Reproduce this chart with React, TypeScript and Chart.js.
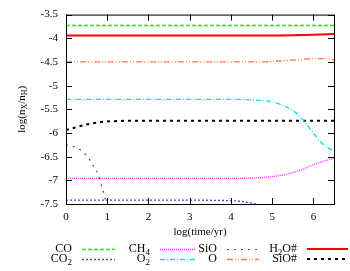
import React, { useEffect, useRef } from "react";
import { Chart, registerables } from "chart.js";

Chart.register(...registerables);

// ---- data ----
const xTicks = [0, 1, 2, 3, 4, 5, 6];
const yTicks = [-3.5, -4, -4.5, -5, -5.5, -6, -6.5, -7, -7.5];

const timeCO = [0, 6.5];
const valCO = [-3.73, -3.73];

const timeCO2 = [0, 1, 2, 3, 4, 4.3, 4.6, 4.8];
const valCO2 = [-7.42, -7.42, -7.42, -7.42, -7.43, -7.45, -7.5, -7.56];

const timeCH4 = [0, 1, 2, 3, 4, 4.5, 4.9, 5.3, 5.7, 6.0, 6.2, 6.5];
const valCH4 = [-6.96, -6.96, -6.96, -6.96, -6.96, -6.95, -6.93, -6.88, -6.78, -6.67, -6.61, -6.53];

const timeO2 = [0, 1, 2, 3, 4, 4.5, 4.9, 5.25, 5.6, 5.75, 6.0, 6.2, 6.5];
const valO2 = [-5.29, -5.29, -5.29, -5.29, -5.29, -5.3, -5.33, -5.41, -5.59, -5.73, -6.0, -6.21, -6.39];

const timeSiO = [0, 0.28, 0.48, 0.65, 0.78, 0.89, 0.97, 1.03];
const valSiO = [-6.25, -6.32, -6.46, -6.67, -6.88, -7.2, -7.45, -7.62];

const timeO = [0, 1, 2, 3, 4, 4.7, 5.2, 5.7, 6.0, 6.3, 6.5];
const valO = [-4.5, -4.5, -4.5, -4.5, -4.5, -4.5, -4.48, -4.45, -4.43, -4.43, -4.46];

const timeH2Oice = [0, 1, 2, 3, 4, 5, 5.5, 6, 6.5];
const valH2Oice = [-3.94, -3.94, -3.94, -3.94, -3.94, -3.94, -3.935, -3.925, -3.91];

const timeSiOice = [0, 0.28, 0.56, 0.85, 1.16, 2, 3, 4, 5, 6, 6.5];
const valSiOice = [-5.94, -5.87, -5.81, -5.77, -5.75, -5.74, -5.74, -5.74, -5.74, -5.74, -5.74];

const labels = ["CO", "CO_2", "CH_4", "O_2", "SiO", "O", "H_2O#", "SiO#"];

const FONT = "'Liberation Serif', 'DejaVu Serif', serif";

function pts(xs: number[], ys: number[]) {
  return xs.map((x, i) => ({ x, y: ys[i] }));
}

function richWidth(ctx: CanvasRenderingContext2D, text: string, size: number) {
  let w = 0;
  for (let i = 0; i < text.length; i++) {
    const c = text[i];
    if (c === "_" && i + 1 < text.length) {
      ctx.font = `${Math.round(size * 0.72)}px ${FONT}`;
      w += ctx.measureText(text[i + 1]).width;
      i++;
    } else {
      ctx.font = `${size}px ${FONT}`;
      w += ctx.measureText(c).width;
    }
  }
  return w;
}

function drawRich(ctx: CanvasRenderingContext2D, text: string, x: number, y: number, size: number, align: "left" | "right" | "center") {
  const w = richWidth(ctx, text, size);
  let cx = align === "left" ? x : align === "right" ? x - w : x - w / 2;
  ctx.textAlign = "left";
  ctx.textBaseline = "middle";
  for (let i = 0; i < text.length; i++) {
    const c = text[i];
    if (c === "_" && i + 1 < text.length) {
      ctx.font = `${Math.round(size * 0.72)}px ${FONT}`;
      ctx.fillText(text[i + 1], cx, y + size * 0.3);
      cx += ctx.measureText(text[i + 1]).width;
      i++;
    } else {
      ctx.font = `${size}px ${FONT}`;
      ctx.fillText(c, cx, y);
      cx += ctx.measureText(c).width;
    }
  }
}

const decorPlugin = {
  id: "decor",
  afterDraw(chart: any) {
    const ctx: CanvasRenderingContext2D = chart.ctx;
    const { left, right, top, bottom } = chart.chartArea;
    const xs = chart.scales.x;
    const ys = chart.scales.y;
    ctx.save();
    ctx.strokeStyle = "#000";
    ctx.lineWidth = 1;
    ctx.setLineDash([]);
    ctx.strokeRect(left + 0.5, top + 0.5, right - left, bottom - top);
    const tl = 6;
    ctx.beginPath();
    xTicks.forEach((v) => {
      const px = Math.round(xs.getPixelForValue(v)) + 0.5;
      ctx.moveTo(px, bottom);
      ctx.lineTo(px, bottom - tl);
      ctx.moveTo(px, top);
      ctx.lineTo(px, top + tl);
    });
    yTicks.forEach((v) => {
      const py = Math.round(ys.getPixelForValue(v)) + 0.5;
      ctx.moveTo(left, py);
      ctx.lineTo(left + tl, py);
      ctx.moveTo(right, py);
      ctx.lineTo(right - tl, py);
    });
    ctx.stroke();

    // axis titles
    ctx.fillStyle = "#000";
    drawRich(ctx, "log(time/yr)", (left + right) / 2, 232, 11, "center");
    ctx.save();
    ctx.translate(22, (top + bottom) / 2);
    ctx.rotate(-Math.PI / 2);
    drawRich(ctx, "log(n_X/n_H)", 0, 0, 11, "center");
    ctx.restore();

    // legend: 4 columns x 2 rows
    const colRight = [72, 150, 217, 297];
    const sampleLen = [33, 35, 32, 41];
    const rowY = [249, 259];
    chart.data.datasets.forEach((ds: any, i: number) => {
      const col = Math.floor(i / 2);
      const row = i % 2;
      const y = rowY[row];
      ctx.fillStyle = "#000";
      drawRich(ctx, ds.label, colRight[col], y, 12, "right");
      const sx = colRight[col] + 10;
      ctx.strokeStyle = ds.borderColor;
      ctx.lineWidth = ds.borderWidth;
      ctx.setLineDash(ds.borderDash || []);
      ctx.beginPath();
      const ly = ds.borderWidth >= 2 ? Math.round(y) : Math.round(y) + 0.5;
      ctx.moveTo(sx, ly);
      ctx.lineTo(sx + sampleLen[col], ly);
      ctx.stroke();
    });
    ctx.restore();
  },
};

export default function App() {
  const ref = useRef<HTMLCanvasElement>(null);
  useEffect(() => {
    document.body.style.margin = "0";
    const styles = [
      { c: "#22ee22", d: [4, 2], w: 1.3 },
      { c: "#4444ff", d: [2, 2], w: 1.3 },
      { c: "#ff22ff", d: [1, 1], w: 1.3 },
      { c: "#11dddd", d: [5, 2, 1, 2], w: 1.3 },
      { c: "#555555", d: [2, 5], w: 1.2 },
      { c: "#ff7744", d: [6, 2, 1, 2, 1, 2], w: 1.3 },
      { c: "#ff0000", d: [], w: 2 },
      { c: "#000000", d: [3, 4], w: 2 },
    ];
    const series = [
      pts(timeCO, valCO),
      pts(timeCO2, valCO2),
      pts(timeCH4, valCH4),
      pts(timeO2, valO2),
      pts(timeSiO, valSiO),
      pts(timeO, valO),
      pts(timeH2Oice, valH2Oice),
      pts(timeSiOice, valSiOice),
    ];
    const chart = new Chart(ref.current!, {
      type: "line",
      data: {
        datasets: series.map((data, i) => ({
          label: labels[i],
          data,
          borderColor: styles[i].c,
          borderDash: styles[i].d,
          borderWidth: styles[i].w,
          pointRadius: 0,
          fill: false,
          cubicInterpolationMode: "monotone" as const,
        })),
      },
      options: {
        responsive: false,
        animation: false,
        layout: { padding: { top: 14, right: 16, left: 0, bottom: 0 } },
        plugins: { legend: { display: false }, tooltip: { enabled: false } },
        scales: {
          x: {
            type: "linear",
            min: 0,
            max: 6.5,
            grid: { display: false, drawTicks: false },
            border: { display: false },
            afterBuildTicks: (s: any) => {
              s.ticks = xTicks.map((v) => ({ value: v }));
            },
            afterFit: (s: any) => {
              s.height = 67;
            },
            ticks: {
              color: "#000",
              font: { family: FONT, size: 11 },
              padding: 7,
              maxRotation: 0,
              callback: (v: any) => String(v),
            },
          },
          y: {
            type: "linear",
            min: -7.5,
            max: -3.5,
            grid: { display: false, drawTicks: false },
            border: { display: false },
            afterBuildTicks: (s: any) => {
              s.ticks = yTicks.map((v) => ({ value: v }));
            },
            afterFit: (s: any) => {
              s.width = 66;
            },
            ticks: {
              color: "#000",
              font: { family: FONT, size: 11 },
              padding: 8,
              callback: (v: any) => String(v),
            },
          },
        },
      },
      plugins: [decorPlugin],
    });
    return () => chart.destroy();
  }, []);
  return (
    <div style={{ width: 350, height: 271, background: "#fff" }}>
      <canvas ref={ref} width={350} height={271} />
    </div>
  );
}
